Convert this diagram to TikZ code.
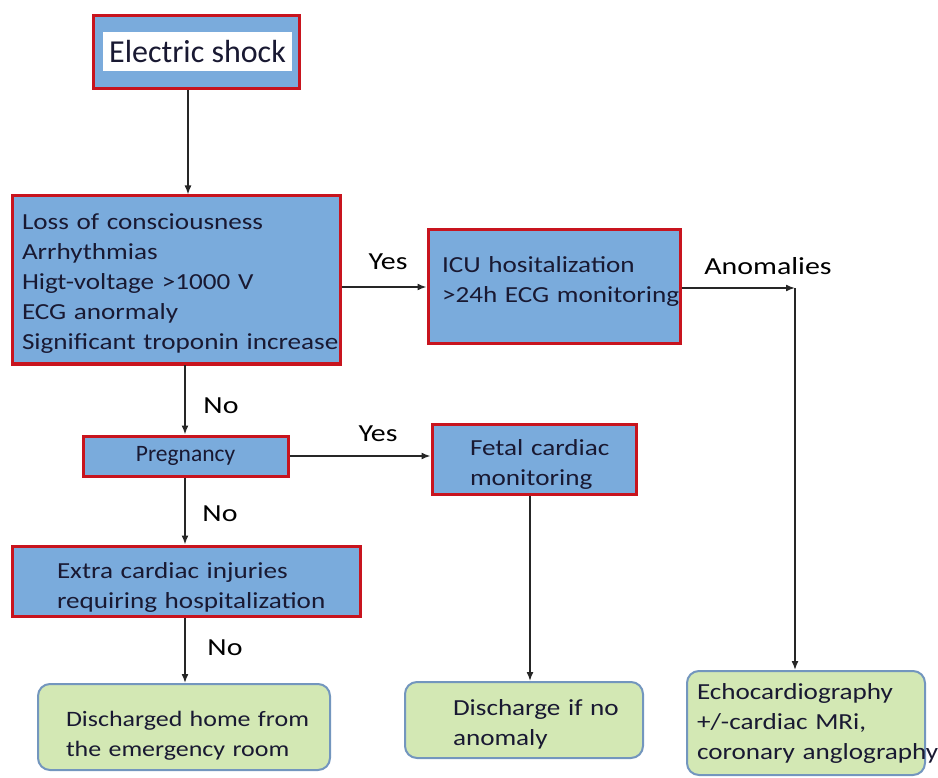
\documentclass[tikz,border=0pt]{standalone}
\usepackage{fontspec}
\setmainfont{Carlito}
\newfontfamily\widefont[FakeStretch=1.18]{Carlito}
\newfontfamily\lblfont[FakeStretch=1.22]{Carlito}
\usetikzlibrary{arrows.meta}
\definecolor{boxblue}{RGB}{122,171,220}
\definecolor{boxred}{RGB}{200,20,30}
\definecolor{boxgreen}{RGB}{211,232,180}
\definecolor{greenedge}{RGB}{115,150,190}
\definecolor{txtdark}{RGB}{25,25,50}
\tikzset{
  bluebox/.style={draw=boxred, line width=3pt, fill=boxblue, text=txtdark, align=left,
    font=\widefont\fontsize{23}{30}\selectfont},
  greenbox/.style={draw=greenedge, line width=2pt, fill=boxgreen, rounded corners=12pt,
    text=txtdark, align=left, font=\widefont\fontsize{23}{30}\selectfont},
  arr/.style={draw=black!85, line width=1.5pt, -{Latex[length=9pt,width=7pt]}},
  lbl/.style={font=\lblfont\fontsize{24.5}{28}\selectfont, text=black, inner sep=0pt}
}
\begin{document}
\begin{tikzpicture}[x=1pt,y=-1pt]
\path[use as bounding box] (0,0) rectangle (938,778);
% boxes
\node[bluebox, minimum width=206pt, minimum height=73pt] (shock) at (196,52) {};
\node[fill=white, minimum width=189pt, minimum height=39pt, inner sep=0pt,
  font=\fontsize{32}{34}\selectfont, text=txtdark] (shocktxt) at (197.5,51.5) {Electric shock};
\node[bluebox, minimum width=328pt, minimum height=168pt, inner xsep=10pt, text width=308pt] (loss) at (176,280)
  {\rule{0pt}{22pt}\mbox{Loss of consciousness}\\Arrhythmias\\\mbox{Higt-voltage >1000 V}\\\mbox{ECG anormaly}\\\mbox{Significant troponin increase}};
\node[bluebox, minimum width=252pt, minimum height=114pt, inner xsep=14pt, text width=224pt] (icu) at (554,287)
  {\mbox{ICU hositalization}\\\mbox{>24h ECG monitoring}\rule[-14pt]{0pt}{1pt}};
\node[bluebox, minimum width=205pt, minimum height=40pt, align=center,
  font=\fontsize{23.5}{28}\selectfont] (preg) at (185.5,456) {Pregnancy};
\node[bluebox, minimum width=204pt, minimum height=70pt, inner xsep=38pt, text width=128pt] (fetal) at (534,459)
  {\rule{0pt}{26pt}\mbox{Fetal cardiac}\\monitoring};
\node[bluebox, minimum width=348pt, minimum height=70pt, inner xsep=45pt, text width=258pt] (extra) at (186,581)
  {\rule{0pt}{28pt}\mbox{Extra cardiac injuries}\\\mbox{requiring hospitalization}};
\node[greenbox, minimum width=292pt, minimum height=86pt, inner xsep=28pt, text width=236pt,
  font=\widefont\fontsize{22}{30}\selectfont] (home) at (184,727)
  {\rule{0pt}{32pt}\mbox{Discharged home from}\\\mbox{the emergency room}};
\node[greenbox, minimum width=238pt, minimum height=76pt, inner xsep=48pt, text width=142pt] (disch) at (524,720)
  {\rule{0pt}{24pt}\mbox{Discharge if no}\\anomaly};
\node[greenbox, minimum width=238pt, minimum height=104pt, inner xsep=10pt, text width=218pt] (echo) at (806,723)
  {\mbox{Echocardiography}\\\mbox{+/-cardiac MRi,}\\\mbox{coronary anglography}};
% helper coordinates
\coordinate (xa) at (188,0);
\coordinate (xb) at (185,0);
\coordinate (xc) at (530,0);
\coordinate (corner) at (795,288);
% connectors
\draw[arr] (shock.south -| xa) -- (loss.north -| xa);
\draw[arr] (loss.east |- icu.west) -- (icu.west);
\draw[arr] (icu.east |- corner) -- (corner);
\draw[arr] (corner) -- (echo.north -| corner);
\draw[arr] (loss.south -| xb) -- (preg.north -| xb);
\draw[arr] (preg.east) -- (fetal.west |- preg.east);
\draw[arr] (preg.south -| xb) -- (extra.north -| xb);
\draw[arr] (extra.south -| xb) -- (home.north -| xb);
\draw[arr] (fetal.south -| xc) -- (disch.north -| xc);
% labels
\node[lbl] (yes1) at (388,262) {Yes};
\node[lbl] (anom) at (768,266) {Anomalies};
\node[lbl] (no1) at (221,406) {No};
\node[lbl] (yes2) at (378,434) {Yes};
\node[lbl] (no2) at (220,514) {No};
\node[lbl] (no3) at (225,648) {No};
\end{tikzpicture}
\end{document}
